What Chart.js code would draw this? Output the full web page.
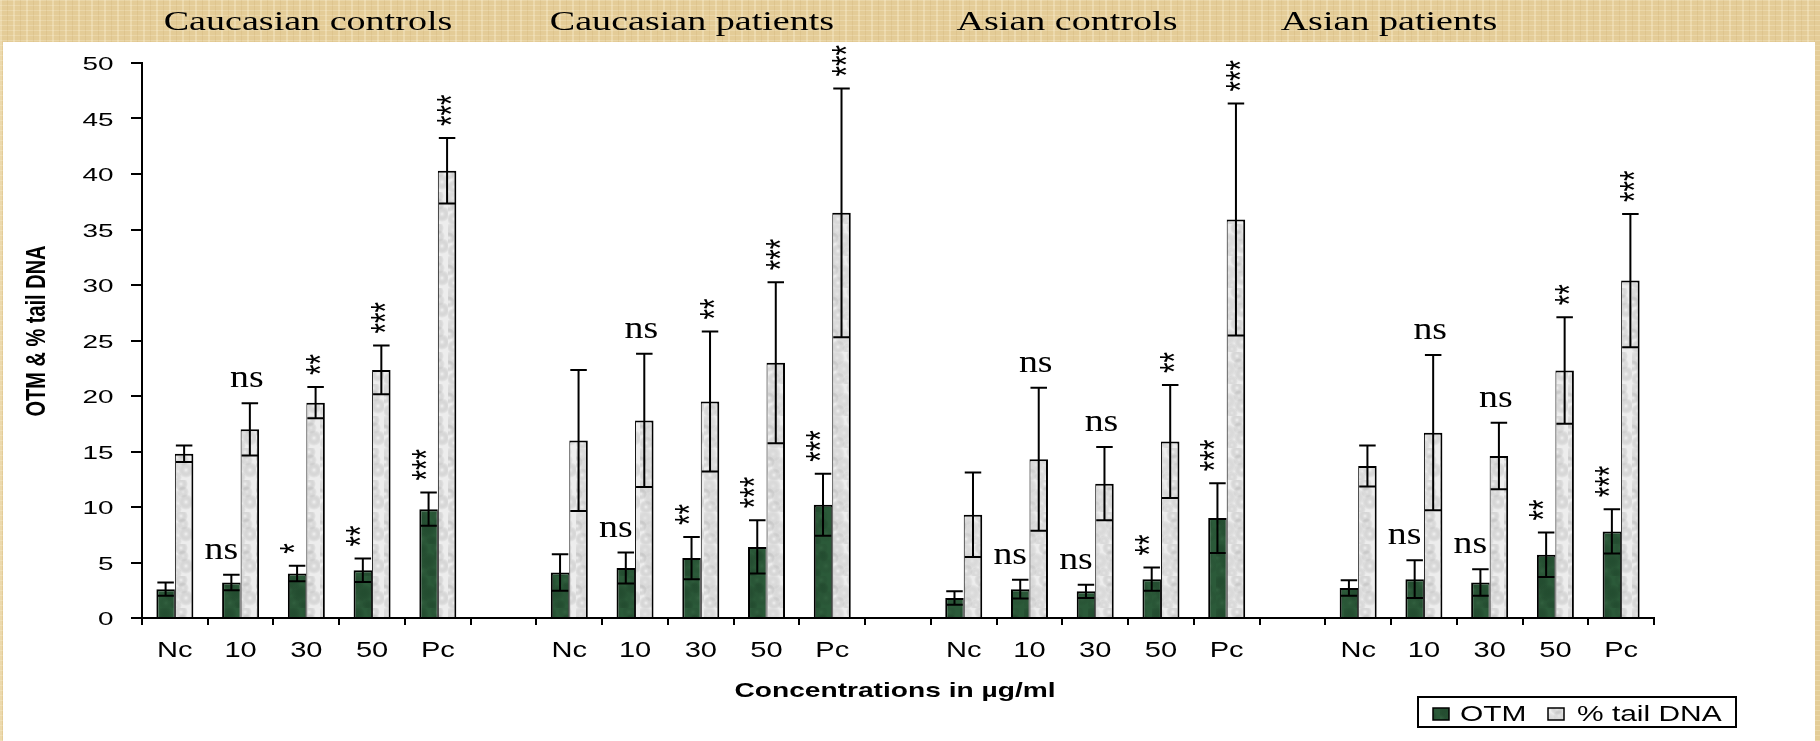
<!DOCTYPE html>
<html>
<head>
<meta charset="utf-8">
<script src="https://cdn.jsdelivr.net/npm/chart.js@4.4.1/dist/chart.umd.min.js"></script>
<style>
  html, body { margin: 0; padding: 0; }
  body {
    width: 1820px; height: 741px; overflow: hidden; position: relative;
    background-color: #e4cc97;
    background-image:
      repeating-linear-gradient(90deg, rgba(255,246,220,0.30) 0 2px, rgba(255,248,225,0) 2px 7px, rgba(180,140,70,0.12) 7px 8px, rgba(255,248,225,0) 8px 13px),
      repeating-linear-gradient(0deg, rgba(255,250,230,0.22) 0 1px, rgba(255,250,230,0) 1px 5px);
  }
  #panel { position: absolute; left: 3px; top: 42px; width: 1812px; height: 699px; background: #fff; }
  canvas { position: absolute; left: 0; top: 0; }
</style>
</head>
<body>
<div id="panel"></div>
<canvas id="c" width="1820" height="741"></canvas>
<script>
// Comet assay: olive tail moment (OTM) and % tail DNA by concentration, per study group
const doses = ['Nc', '10', '30', '50', 'Pc'];
const groupTitles = ['Caucasian controls', 'Caucasian patients', 'Asian controls', 'Asian patients'];

// values listed group by group, Nc..Pc inside each group
const otmMean  = [2.6, 3.2, 4.0, 4.3, 9.8,   4.1, 4.5, 5.4, 6.4, 10.2,  1.8, 2.6, 2.4, 3.5, 9.0,   2.7, 3.5, 3.2, 5.7, 7.8];
const otmSd    = [0.6, 0.7, 0.7, 1.05, 1.5,  1.65, 1.4, 1.9, 2.4, 2.8,  0.6, 0.85, 0.6, 1.05, 3.15, 0.7, 1.7, 1.2, 2.0, 2.0];
const tailMean = [14.8, 17.0, 19.4, 22.35, 40.3,  16.0, 17.8, 19.5, 23.0, 36.5,  9.3, 14.3, 12.1, 15.9, 35.9,  13.7, 16.7, 14.6, 22.3, 30.4];
const tailSd   = [0.75, 2.35, 1.4, 2.2, 2.95,  6.35, 6.0, 6.3, 7.25, 11.2,  3.8, 6.45, 3.3, 5.1, 10.45,  1.85, 7.0, 3.0, 4.8, 6.0];
const otmSig   = ['', 'ns', '*', '**', '***',  '', 'ns', '**', '***', '***',  '', 'ns', 'ns', '**', '***',  '', 'ns', 'ns', '**', '***'];
const tailSig  = ['', 'ns', '**', '***', '***',  '', 'ns', '**', '***', '***',  '', 'ns', 'ns', '**', '***',  '', 'ns', 'ns', '**', '***'];
const yTicks   = [0, 5, 10, 15, 20, 25, 30, 35, 40, 45, 50];
const seriesNames = ['OTM', '% tail DNA'];

// 23 category slots: five doses per group with an empty slot between groups
const slotLabels = [];
const slotIndex = [];
groupTitles.forEach((g, gi) => {
  doses.forEach((d, di) => { slotLabels.push(d); slotIndex.push(gi * doses.length + di); });
  if (gi < groupTitles.length - 1) { slotLabels.push(''); slotIndex.push(-1); }
});
const pick = arr => slotIndex.map(k => (k < 0 ? null : arr[k]));

// mottled fills for the two series
function makePattern(base, dark, light) {
  const p = document.createElement('canvas');
  p.width = 32; p.height = 32;
  const g = p.getContext('2d');
  g.fillStyle = base; g.fillRect(0, 0, 32, 32);
  const blots = [[5,6,8,dark],[21,4,7,light],[12,17,9,dark],[26,22,8,light],[6,27,7,light],[23,12,6,dark],[16,29,6,dark],[1,14,6,light]];
  blots.forEach(([x, y, r, c]) => {
    const gr = g.createRadialGradient(x, y, 0, x, y, r);
    gr.addColorStop(0, c); gr.addColorStop(1, 'rgba(0,0,0,0)');
    g.fillStyle = gr;
    g.beginPath(); g.arc(x, y, r, 0, Math.PI * 2); g.fill();
  });
  return g.createPattern(p, 'repeat');
}
const ctx0 = document.getElementById('c').getContext('2d');
const greenFill = makePattern('#2b5a39', 'rgba(20,55,32,0.35)', 'rgba(72,120,84,0.25)');
const greyFill = makePattern('#ededed', 'rgba(218,218,218,0.3)', 'rgba(252,252,252,0.4)');

function stretchedText(ctx, text, x, y, font, sx, align) {
  ctx.save();
  ctx.font = font;
  ctx.translate(x, y);
  ctx.scale(sx, 1);
  ctx.textAlign = align || 'center';
  ctx.textBaseline = 'alphabetic';
  ctx.fillText(text, 0, 0);
  ctx.restore();
}

// asterisks are set sideways, stacked upward from `bottom`
function drawStars(ctx, text, cx, bottom) {
  ctx.save();
  ctx.font = '27px "Liberation Sans", Arial, sans-serif';
  const m = ctx.measureText(text);
  const shift = (m.actualBoundingBoxAscent - m.actualBoundingBoxDescent) / 2;
  ctx.translate(cx, bottom);
  ctx.scale(1.5, 1);
  ctx.rotate(-Math.PI / 2);
  ctx.textAlign = 'left';
  ctx.textBaseline = 'alphabetic';
  ctx.fillText(text, m.actualBoundingBoxLeft, shift);
  ctx.restore();
}

function drawSig(ctx, label, cx, capY) {
  if (!label) return;
  if (label === 'ns') {
    stretchedText(ctx, 'ns', cx, capY - 16, '32px "Liberation Serif", "Times New Roman", serif', 1.18, 'center');
  } else {
    drawStars(ctx, label, cx, capY - 12);
  }
}

const decor = {
  id: 'decor',
  afterDatasetsDraw(chart) {
    const ctx = chart.ctx;
    const y = chart.scales.y;
    const sets = [[otmMean, otmSd, otmSig, -10], [tailMean, tailSd, tailSig, -3]];
    sets.forEach(([means, sds, sig, dx], di) => {
      const meta = chart.getDatasetMeta(di);
      ctx.save();
      ctx.strokeStyle = '#000';
      ctx.lineWidth = 2;
      meta.data.forEach((bar, j) => {
        const k = slotIndex[j];
        if (k < 0) return;
        const top = y.getPixelForValue(means[k] + sds[k]);
        const bot = y.getPixelForValue(means[k] - sds[k]);
        const half = bar.width / 2 - 1;
        ctx.beginPath();
        ctx.moveTo(bar.x, top); ctx.lineTo(bar.x, bot);
        ctx.moveTo(bar.x - half, top); ctx.lineTo(bar.x + half, top);
        ctx.moveTo(bar.x - half, bot); ctx.lineTo(bar.x + half, bot);
        ctx.stroke();
        ctx.fillStyle = '#000';
        drawSig(ctx, sig[k], bar.x + dx, top);
      });
      ctx.restore();
    });
  },
  afterDraw(chart) {
    const ctx = chart.ctx;
    const x = chart.scales.x;
    const y = chart.scales.y;
    ctx.save();
    ctx.fillStyle = '#000';

    // value axis labels
    yTicks.forEach(v => {
      stretchedText(ctx, String(v), 113.5, y.getPixelForValue(v) + 7, '18px "Liberation Sans", Arial, sans-serif', 1.55, 'right');
    });
    // dose labels
    slotLabels.forEach((lab, i) => {
      if (lab) stretchedText(ctx, lab, x.getPixelForValue(i), 657, '22px "Liberation Sans", Arial, sans-serif', 1.32, 'center');
    });
    // axis titles
    const mid = (chart.chartArea.left + chart.chartArea.right) / 2;
    stretchedText(ctx, 'Concentrations in µg/ml', mid - 3, 697, 'bold 21px "Liberation Sans", Arial, sans-serif', 1.34, 'center');
    ctx.save();
    ctx.translate(37, 331);
    ctx.scale(1.4, 1);
    ctx.rotate(-Math.PI / 2);
    ctx.font = 'bold 20px "Liberation Sans", Arial, sans-serif';
    ctx.textAlign = 'center';
    ctx.textBaseline = 'middle';
    ctx.fillText('OTM & % tail DNA', 0, 0);
    ctx.restore();

    // group headings in the top band
    const headX = [308, 692, 1067, 1389];
    groupTitles.forEach((t, i) => {
      stretchedText(ctx, t, headX[i], 30, '27px "Liberation Serif", "Times New Roman", serif', 1.41, 'center');
    });

    // legend
    ctx.fillStyle = '#fff';
    ctx.fillRect(1418, 697, 318, 30);
    ctx.strokeStyle = '#000';
    ctx.lineWidth = 2;
    ctx.strokeRect(1418, 697, 318, 30);
    const swatches = [[greenFill, 1433, 1460], [greyFill, 1548, 1577]];
    swatches.forEach(([fill, sx, tx], i) => {
      ctx.fillStyle = fill;
      ctx.fillRect(sx, 708, 16, 12);
      ctx.lineWidth = 1.5;
      ctx.strokeRect(sx, 708, 16, 12);
      ctx.fillStyle = '#000';
      stretchedText(ctx, seriesNames[i], tx, 721, '22px "Liberation Sans", Arial, sans-serif', 1.36, 'left');
    });
    ctx.restore();
  }
};

new Chart(ctx0, {
  type: 'bar',
  data: {
    labels: slotLabels,
    datasets: [
      {
        label: seriesNames[0], data: pick(otmMean),
        backgroundColor: greenFill, borderColor: '#000',
        borderWidth: { top: 2, left: 2, right: 1, bottom: 0 },
        categoryPercentage: 0.563, barPercentage: 1
      },
      {
        label: seriesNames[1], data: pick(tailMean),
        backgroundColor: greyFill, borderColor: '#000',
        borderWidth: { top: 2, left: 1, right: 2, bottom: 0 },
        categoryPercentage: 0.563, barPercentage: 1
      }
    ]
  },
  options: {
    responsive: false,
    animation: false,
    events: [],
    layout: { padding: { left: 131, right: 166, top: 63, bottom: 116 } },
    plugins: { legend: { display: false }, tooltip: { enabled: false }, title: { display: false } },
    scales: {
      x: {
        z: 1,
        ticks: { display: false },
        grid: { display: true, drawOnChartArea: false, drawTicks: true, tickLength: 7, color: '#000', lineWidth: 2, offset: true },
        border: { display: true, color: '#000', width: 2 },
        afterFit: s => { s.height = 7; }
      },
      y: {
        min: 0, max: 50,
        ticks: { display: false, stepSize: 5 },
        grid: { display: true, drawOnChartArea: false, drawTicks: true, tickLength: 11, color: '#000', lineWidth: 2 },
        border: { display: true, color: '#000', width: 2 },
        afterFit: s => { s.width = 11; }
      }
    }
  },
  plugins: [decor]
});
</script>
</body>
</html>
